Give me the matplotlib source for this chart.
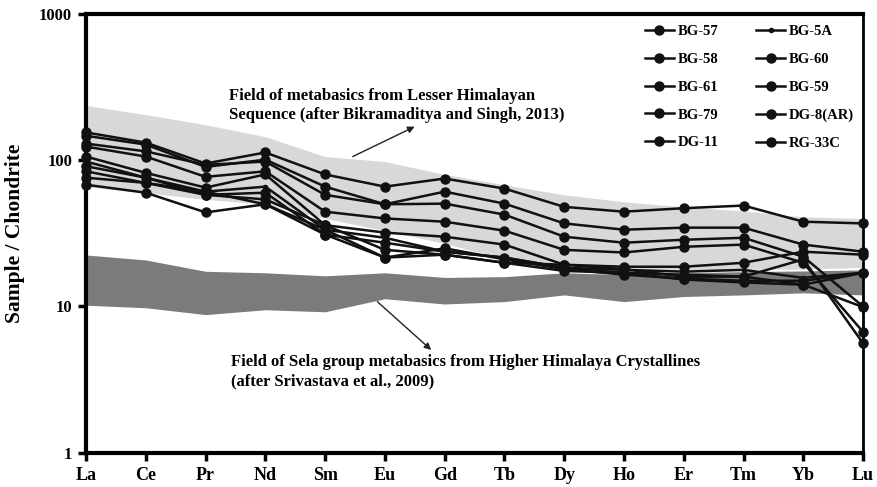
import numpy as np
import matplotlib.pyplot as plt

plt.rcParams['font.family'] = ['Liberation Serif', 'DejaVu Serif']
plt.rcParams['font.weight'] = 'bold'

elements = ['La', 'Ce', 'Pr', 'Nd', 'Sm', 'Eu', 'Gd', 'Tb', 'Dy', 'Ho', 'Er', 'Tm', 'Yb', 'Lu']

# chondrite-normalised REE, one list per sample
samples = ['BG-57', 'BG-58', 'BG-61', 'BG-79', 'DG-11',
           'BG-5A', 'BG-60', 'BG-59', 'DG-8(AR)', 'RG-33C']
bg57 = [155, 132, 95, 113, 80, 66, 75, 64, 48, 44.5, 47, 49, 38, 37]
bg58 = [147, 128, 90, 101, 66, 50, 61, 50.5, 37, 33.5, 34.6, 34.6, 26.5, 23.7]
bg61 = [130, 115, 93, 98, 58, 50, 50.5, 42.5, 30, 27.3, 28.6, 29.5, 21.9, 10]
bg79 = [124, 106, 77, 84, 44.5, 40, 38, 33, 24.4, 23.4, 25.6, 26.5, 19.9, 6.7]
dg11 = [106, 82, 65, 80, 36, 32, 30, 26.5, 19.3, 18.7, 18.7, 19.9, 23.7, 22.6]
bg5a = [98, 76, 61, 66, 33.5, 29.5, 23.7, 21.6, 18.4, 17.8, 17.3, 17.8, 15.7, 17]
bg60 = [91, 76, 58, 60, 31, 27.3, 23.7, 21.6, 18.4, 17, 16.5, 16, 14.1, 17]
bg59 = [84, 70, 58, 54, 36, 24.4, 22.6, 19.9, 19.3, 18, 16, 16, 21, 5.6]
dg8ar = [76, 70, 61, 50, 31, 21.6, 22.6, 19.9, 17.5, 17, 15.3, 14.6, 14.1, 9.9]
rg33c = [68, 60, 44, 50, 33.5, 21.6, 25, 21, 18, 16.5, 15.5, 15, 15, 17]
values = [bg57, bg58, bg61, bg79, dg11, bg5a, bg60, bg59, dg8ar, rg33c]

# literature fields (upper / lower envelopes)
lesser_hi = [237, 205, 175, 145, 106, 98, 80, 68, 58, 52, 48, 45, 41, 40]
lesser_lo = [66, 60, 54, 50, 40, 33, 27, 21, 18, 17.5, 17.5, 18, 18, 18.5]
sela_hi = [22.5, 20.8, 17.4, 17, 16.2, 17, 15.8, 16, 17, 16.5, 17, 17.3, 17.5, 17.8]
sela_lo = [10.2, 9.8, 8.8, 9.5, 9.2, 11.3, 10.4, 10.8, 12, 10.8, 11.7, 12, 12.4, 12]

x = np.arange(len(elements))

fig = plt.figure(figsize=(8.78, 4.87), dpi=100)
ax = fig.add_axes([0.098, 0.0704, 0.885, 0.9008])

ax.fill_between(x, lesser_lo, lesser_hi, color='#d8d8d8', lw=0, zorder=1)
ax.fill_between(x, sela_lo, sela_hi, color='#7b7b7b', lw=0, zorder=2)

for name, v in zip(samples, values):
    ms = 3 if name == 'BG-5A' else 6.5
    ax.plot(x, v, color='#111111', lw=1.8, marker='o', ms=ms,
            label=name, zorder=3, clip_on=False)

ax.set_yscale('log')
ax.set_ylim(1, 1000)
ax.set_xlim(0, 13)
ax.set_xticks(x)
ax.set_xticklabels(elements, fontsize=13, fontweight='bold')
ax.set_yticks([1, 10, 100, 1000])
ax.set_yticklabels(['1', '10', '100', '1000'], fontsize=12, fontweight='bold')
ax.yaxis.set_minor_locator(plt.NullLocator())
ax.tick_params(direction='out', length=6, width=2.5, pad=4)
for side in ['left', 'bottom', 'top']:
    ax.spines[side].set_linewidth(3)
ax.spines['right'].set_linewidth(2)
ax.set_ylabel('Sample / Chondrite', fontsize=15.5, fontweight='bold', labelpad=10)

ax.text(2.4, 237, 'Field of metabasics from Lesser Himalayan\nSequence (after Bikramaditya and Singh, 2013)',
        fontsize=12, fontweight='bold', va='center', linespacing=1.25)
ax.annotate('', xy=(5.54, 173), xytext=(4.42, 104),
            arrowprops=dict(arrowstyle='-|>', color='#222222', lw=1, mutation_scale=10))

ax.text(2.43, 3.6, 'Field of Sela group metabasics from Higher Himalaya Crystallines\n(after Srivastava et al., 2009)',
        fontsize=12, fontweight='bold', va='center', linespacing=1.3)
ax.annotate('', xy=(5.81, 4.9), xytext=(4.84, 11.1),
            arrowprops=dict(arrowstyle='-|>', color='#222222', lw=1, mutation_scale=10))

ax.legend(ncol=2, loc='upper left', bbox_to_anchor=(0.719, 0.975), frameon=False,
          borderpad=0, borderaxespad=0, handlelength=2.0, handletextpad=0.25,
          labelspacing=1.0, columnspacing=2.6,
          prop={'weight': 'bold', 'size': 10.5})

fig.savefig('out.png', dpi=100)
